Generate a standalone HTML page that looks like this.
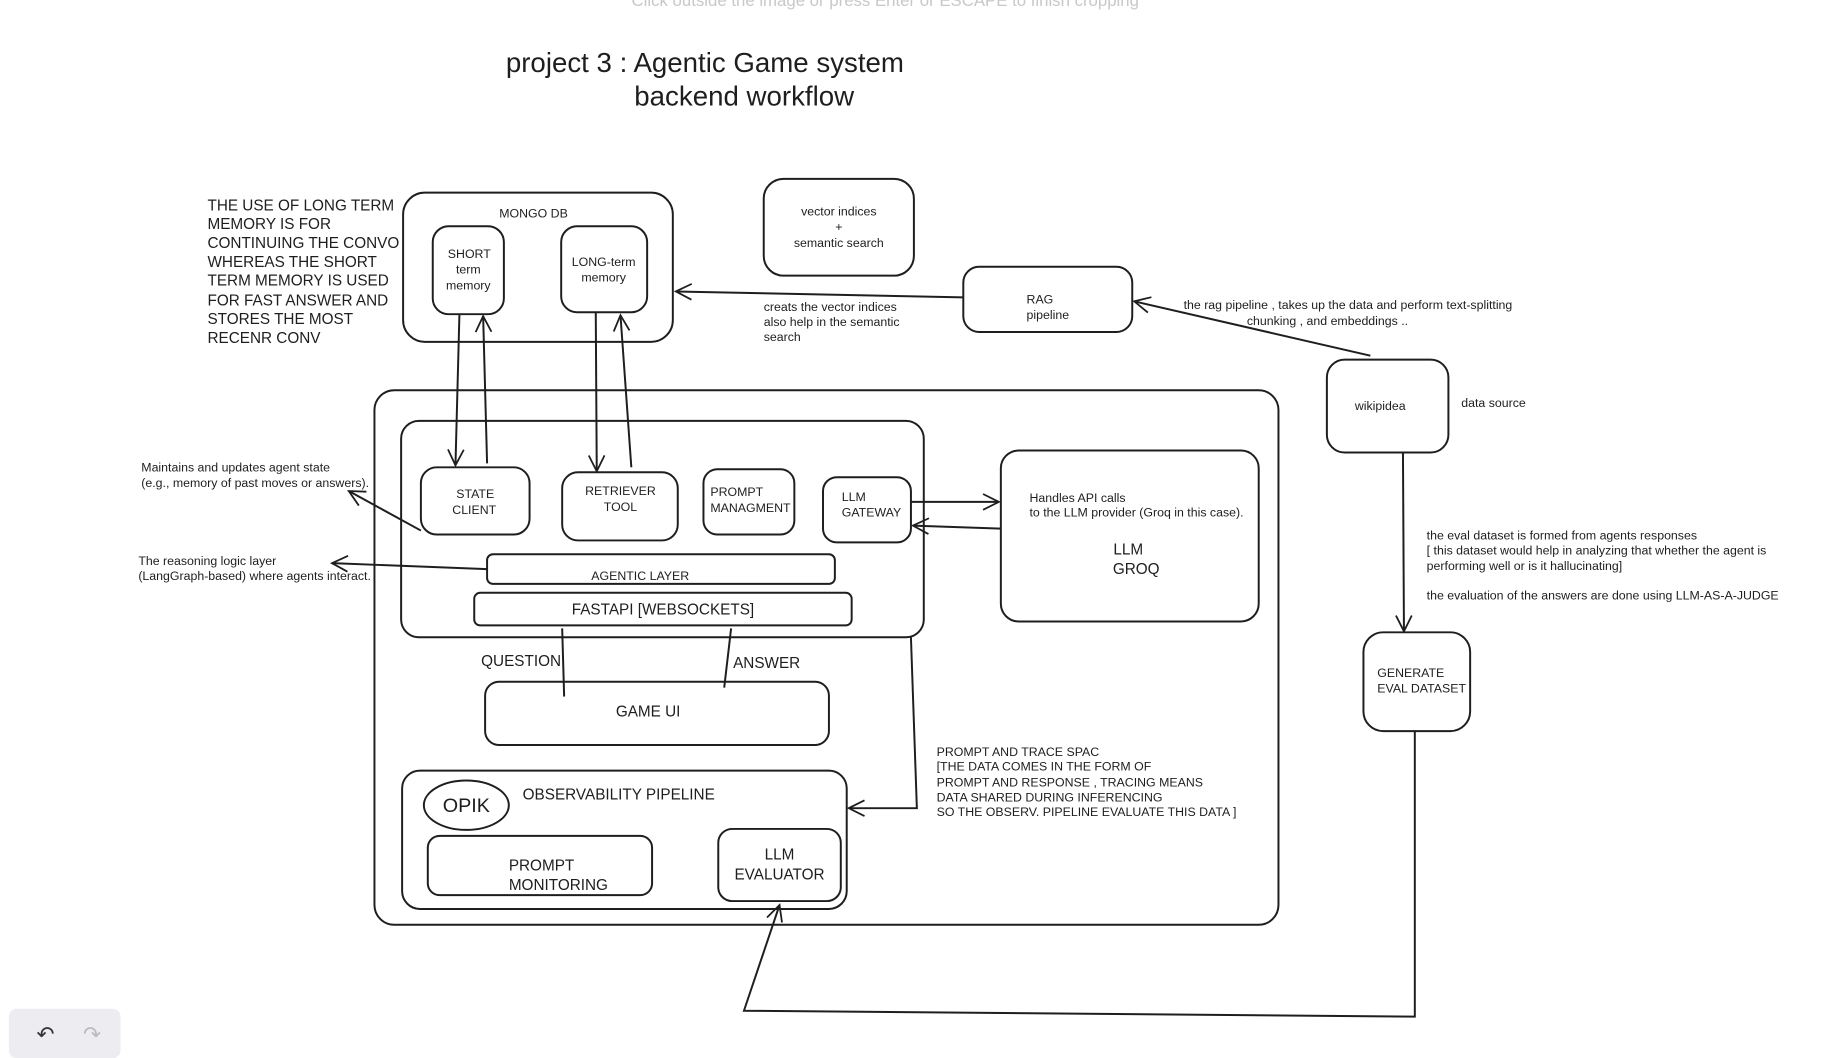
<!DOCTYPE html>
<html><head><meta charset="utf-8"><style>
html,body{margin:0;padding:0;background:#fff;}
svg{display:block;}
text{font-family:"Liberation Sans",sans-serif;fill:#1e1e1e;}
</style></head><body>
<svg width="1830" height="1058" viewBox="0 0 1830 1058" xmlns="http://www.w3.org/2000/svg">
<defs>
<marker id="a" viewBox="0 0 20 20" refX="18" refY="10" markerWidth="20" markerHeight="20" markerUnits="userSpaceOnUse" orient="auto">
<path d="M2 2 L18 10 L2 18" fill="none" stroke="#1e1e1e" stroke-width="1.8"/>
</marker>
</defs>
<g transform="scale(0.988)">
<text x="896" y="6" font-size="17" fill="#c8c8c8" style="fill:#c8c8c8" text-anchor="middle">Click outside the image or press Enter or ESCAPE to finish cropping</text>
<text x="512" y="73" font-size="28">project 3 : Agentic Game system</text>
<text x="642" y="107" font-size="28">backend workflow</text>

<g font-size="15.5">
<text x="210" y="213">THE USE OF LONG TERM</text>
<text x="210" y="232">MEMORY IS FOR</text>
<text x="210" y="251">CONTINUING THE CONVO</text>
<text x="210" y="270">WHEREAS THE SHORT</text>
<text x="210" y="289">TERM MEMORY IS USED</text>
<text x="210" y="309">FOR FAST ANSWER AND</text>
<text x="210" y="328">STORES THE MOST</text>
<text x="210" y="347">RECENR CONV</text>
</g>

<g fill="none" stroke="#1e1e1e" stroke-width="2">
<rect x="408" y="195" width="273" height="151" rx="22"/>
<rect x="438" y="229" width="72" height="89" rx="16"/>
<rect x="568" y="229" width="87" height="87" rx="16"/>
<rect x="773" y="181" width="152" height="98" rx="20"/>
<rect x="975" y="270" width="171" height="66" rx="16"/>
<rect x="1343" y="364" width="123" height="94" rx="18"/>
<rect x="379" y="395" width="915" height="541" rx="20"/>
<rect x="406" y="426" width="529" height="219" rx="18"/>
<rect x="426" y="473" width="110" height="68" rx="16"/>
<rect x="569" y="478" width="117" height="69" rx="16"/>
<rect x="712" y="475" width="92" height="66" rx="14"/>
<rect x="833" y="483" width="89" height="66" rx="14"/>
<rect x="493" y="561" width="352" height="30" rx="6"/>
<rect x="480" y="600" width="382" height="33" rx="6"/>
<rect x="1013" y="456" width="261" height="173" rx="18"/>
<rect x="491" y="690" width="348" height="64" rx="14"/>
<rect x="407" y="780" width="450" height="140" rx="18"/>
<ellipse cx="472" cy="815" rx="43" ry="25"/>
<rect x="433" y="846" width="227" height="60" rx="12"/>
<rect x="727" y="839" width="124" height="73" rx="14"/>
<rect x="1380" y="640" width="108" height="100" rx="20"/>

<line x1="975" y1="301" x2="684" y2="295" marker-end="url(#a)"/>
<line x1="1387" y1="360" x2="1148" y2="305" marker-end="url(#a)"/>
<line x1="465" y1="318" x2="461" y2="471" marker-end="url(#a)"/>
<line x1="493" y1="469" x2="489" y2="320" marker-end="url(#a)"/>
<line x1="603" y1="316" x2="604" y2="477" marker-end="url(#a)"/>
<line x1="639" y1="473" x2="628" y2="319" marker-end="url(#a)"/>
<line x1="426" y1="537" x2="353" y2="497" marker-end="url(#a)"/>
<line x1="493" y1="576" x2="336" y2="570" marker-end="url(#a)"/>
<line x1="922" y1="508" x2="1011" y2="508" marker-end="url(#a)"/>
<line x1="1013" y1="535" x2="924" y2="532" marker-end="url(#a)"/>
<line x1="569" y1="636" x2="571" y2="705"/>
<line x1="740" y1="636" x2="733" y2="696"/>
<polyline points="922,645 928,818 859,818" marker-end="url(#a)"/>
<line x1="1420" y1="458" x2="1421" y2="639" marker-end="url(#a)"/>
<polyline points="1432,740 1432,1029 753,1023 789,916" marker-end="url(#a)"/>
</g>

<g font-size="12.5" text-anchor="middle">
<text x="540" y="220">MONGO DB</text>
<text x="475" y="261">SHORT</text>
<text x="474" y="277">term</text>
<text x="474" y="293">memory</text>
<text x="611" y="269">LONG-term</text>
<text x="611" y="285">memory</text>
<text x="849" y="218">vector indices</text>
<text x="849" y="234">+</text>
<text x="849" y="250">semantic search</text>
<text x="1397" y="415">wikipidea</text>
<text x="481" y="504">STATE</text>
<text x="480" y="520">CLIENT</text>
<text x="628" y="501">RETRIEVER</text>
<text x="628" y="517">TOOL</text>
<text x="648" y="587">AGENTIC LAYER</text>
</g>
<g font-size="12.5">
<text x="1039" y="307">RAG</text>
<text x="1039" y="323">pipeline</text>
<text x="1479" y="412">data source</text>
<text x="773" y="315">creats the vector indices</text>
<text x="773" y="330">also help in the semantic</text>
<text x="773" y="345">search</text>
<text x="1198" y="313">the rag pipeline , takes up the data and perform text-splitting</text>
<text x="1262" y="329">chunking , and embeddings ..</text>
<text x="143" y="477">Maintains and updates agent state</text>
<text x="143" y="493">(e.g., memory of past moves or answers).</text>
<text x="140" y="572">The reasoning logic layer</text>
<text x="140" y="587">(LangGraph-based) where agents interact.</text>
<text x="719" y="502">PROMPT</text>
<text x="719" y="518">MANAGMENT</text>
<text x="852" y="507">LLM</text>
<text x="852" y="523">GATEWAY</text>
<text x="1042" y="508">Handles API calls</text>
<text x="1042" y="523">to the LLM provider (Groq in this case).</text>
<text x="948" y="765">PROMPT AND TRACE SPAC</text>
<text x="948" y="780">[THE DATA COMES IN THE FORM OF</text>
<text x="948" y="796">PROMPT AND RESPONSE , TRACING MEANS</text>
<text x="948" y="811">DATA SHARED DURING INFERENCING</text>
<text x="948" y="826">SO THE OBSERV. PIPELINE EVALUATE THIS DATA ]</text>
<text x="1444" y="546">the eval dataset is formed from agents responses</text>
<text x="1444" y="561">[ this dataset would help in analyzing that whether the agent is</text>
<text x="1444" y="577">performing well or is it hallucinating]</text>
<text x="1444" y="607">the evaluation of the answers are done using LLM-AS-A-JUDGE</text>
<text x="1394" y="685">GENERATE</text>
<text x="1394" y="701">EVAL DATASET</text>
</g>
<g font-size="15.5">
<text x="671" y="622" text-anchor="middle">FASTAPI [WEBSOCKETS]</text>
<text x="1142" y="561" text-anchor="middle">LLM</text>
<text x="1150" y="581" text-anchor="middle">GROQ</text>
<text x="487" y="674">QUESTION</text>
<text x="742" y="676">ANSWER</text>
<text x="656" y="725" text-anchor="middle">GAME UI</text>
<text x="529" y="809">OBSERVABILITY PIPELINE</text>
<text x="515" y="881">PROMPT</text>
<text x="515" y="901">MONITORING</text>
<text x="789" y="870" text-anchor="middle">LLM</text>
<text x="789" y="890" text-anchor="middle">EVALUATOR</text>
<text x="472" y="822" font-size="20" text-anchor="middle">OPIK</text>
</g>

<rect x="9" y="1021" width="113" height="50" rx="8" fill="#ececf1"/>
<text x="37" y="1054" font-size="22" style="fill:#333">↶</text>
<text x="84" y="1054" font-size="22" style="fill:#bbb">↷</text>
</g>
</svg>
</body></html>
